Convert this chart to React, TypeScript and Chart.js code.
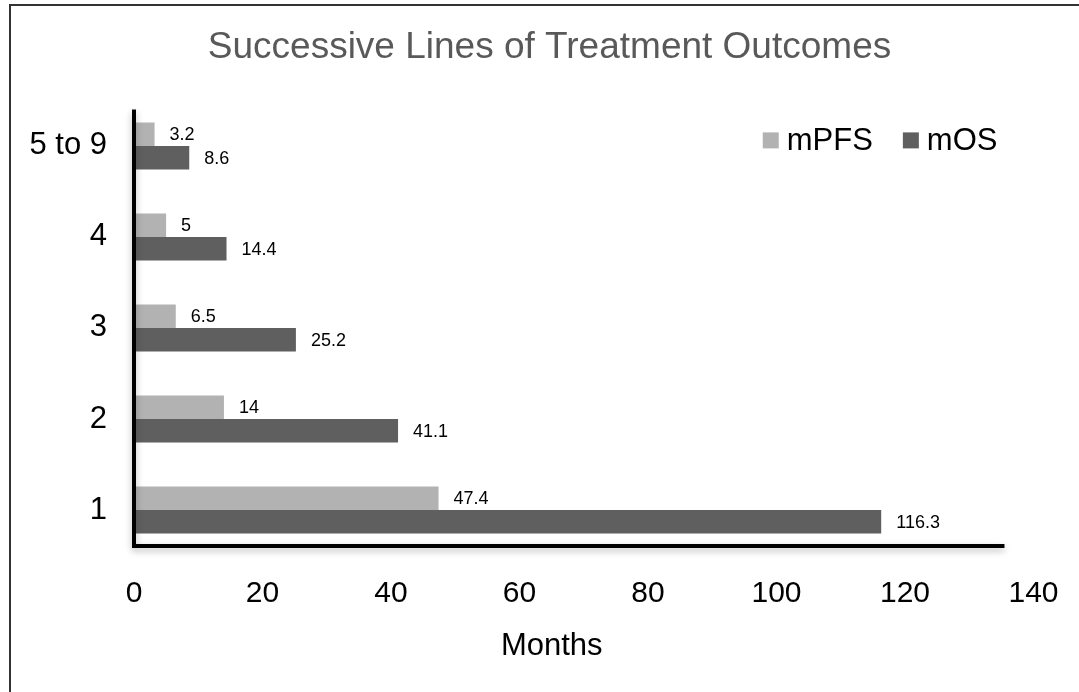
import React, { useEffect, useRef } from "react";
import { Chart, registerables } from "chart.js";

Chart.register(...registerables);

const FONT = "'Liberation Sans', Arial, Helvetica, sans-serif";

const categories = ["5 to 9", "4", "3", "2", "1"];
const seriesNames = ["mPFS", "mOS"];
const seriesColors = ["#b2b2b2", "#5f5f5f"];
const mPFS = [3.2, 5, 6.5, 14, 47.4];
const mOS = [8.6, 14.4, 25.2, 41.1, 116.3];
const xTicks = [0, 20, 40, 60, 80, 100, 120, 140];
const chartTitle = "Successive Lines of Treatment Outcomes";
const xTitle = "Months";

// Thick black axis lines with a soft shadow (Excel style)
const axisLinesPlugin = {
  id: "axisLines",
  afterDatasetsDraw(chart: any) {
    const { ctx, chartArea: a } = chart;
    ctx.save();
    ctx.strokeStyle = "#000";
    ctx.lineWidth = 4;
    ctx.lineCap = "butt";
    ctx.shadowColor = "rgba(0,0,0,0.28)";
    ctx.shadowBlur = 7;
    ctx.shadowOffsetX = 0;
    ctx.shadowOffsetY = 3;
    ctx.beginPath();
    ctx.moveTo(a.left, a.top + 9);
    ctx.lineTo(a.left, a.bottom - 7.5);
    ctx.moveTo(a.left - 2, a.bottom - 9.5);
    ctx.lineTo(a.right - 29, a.bottom - 9.5);
    ctx.stroke();
    ctx.restore();
  },
};

// Value labels at the end of each bar
const valueLabelsPlugin = {
  id: "valueLabels",
  afterDatasetsDraw(chart: any) {
    const { ctx } = chart;
    ctx.save();
    ctx.font = `18px ${FONT}`;
    ctx.fillStyle = "#000";
    ctx.textAlign = "left";
    ctx.textBaseline = "middle";
    chart.data.datasets.forEach((ds: any, i: number) => {
      const meta = chart.getDatasetMeta(i);
      meta.data.forEach((bar: any, j: number) => {
        ctx.fillText(String(ds.data[j]), bar.x + 15, bar.y + 1);
      });
    });
    ctx.restore();
  },
};

// Legend drawn inside the plot area, top-right, from the datasets
const innerLegendPlugin = {
  id: "innerLegend",
  afterDraw(chart: any) {
    const { ctx, chartArea: a } = chart;
    const ds = chart.data.datasets;
    ctx.save();
    ctx.font = `31px ${FONT}`;
    ctx.textBaseline = "middle";
    ctx.textAlign = "left";
    const box = 16;
    const gap = 8;
    const itemGap = 30;
    const widths = ds.map((d: any) => box + gap + ctx.measureText(d.label).width);
    const total = widths.reduce((s: number, w: number) => s + w, 0) + itemGap * (ds.length - 1);
    let x = a.right - 36 - total;
    const cy = a.top + 40;
    ds.forEach((d: any, i: number) => {
      ctx.fillStyle = d.backgroundColor;
      ctx.fillRect(x, cy - box / 2, box, box);
      ctx.fillStyle = "#000";
      ctx.fillText(d.label, x + box + gap, cy + 1);
      x += widths[i] + itemGap;
    });
    ctx.restore();
  },
};

// X-axis title, centred like the chart title
const axisTitlePlugin = {
  id: "axisTitle",
  afterLayout(chart: any) {
    const t = chart.titleBlock;
    if (t) {
      t.left += 32.5;
      t.right += 32.5;
    }
  },
  afterDraw(chart: any) {
    const { ctx, chartArea: a } = chart;
    ctx.save();
    ctx.font = `31px ${FONT}`;
    ctx.fillStyle = "#000";
    ctx.textAlign = "center";
    ctx.textBaseline = "middle";
    ctx.fillText(xTitle, (a.left + a.right) / 2 - 32, a.bottom + 90.5);
    ctx.restore();
  },
};

export default function App() {
  const canvasRef = useRef<HTMLCanvasElement | null>(null);

  useEffect(() => {
    if (!canvasRef.current) return;
    Chart.defaults.font.family = FONT;
    const chart = new Chart(canvasRef.current, {
      type: "bar",
      data: {
        labels: categories,
        datasets: [
          {
            label: seriesNames[0],
            data: mPFS,
            backgroundColor: seriesColors[0],
            borderWidth: 0,
            barPercentage: 1,
            categoryPercentage: 0.516,
          },
          {
            label: seriesNames[1],
            data: mOS,
            backgroundColor: seriesColors[1],
            borderWidth: 0,
            barPercentage: 1,
            categoryPercentage: 0.516,
          },
        ],
      },
      options: {
        indexAxis: "y",
        responsive: false,
        animation: false,
        layout: { padding: { left: 0, right: 45, top: 0, bottom: 0 } },
        plugins: {
          title: {
            display: true,
            text: chartTitle,
            color: "#595959",
            font: { size: 37, family: FONT, weight: "normal" },
            padding: { top: 26, bottom: 30 },
          },
          legend: { display: false },
          tooltip: { enabled: false },
        },
        scales: {
          x: {
            type: "linear",
            min: 0,
            max: 140,
            afterBuildTicks: (s: any) => {
              s.ticks = xTicks.map((v) => ({ value: v }));
            },
            afterFit: (s: any) => {
              s.height = 136.5;
            },
            ticks: {
              color: "#000",
              font: { size: 30, family: FONT },
              padding: 20.5,
            },
            grid: { display: false, drawTicks: false },
            border: { display: false },
          },
          y: {
            afterFit: (s: any) => {
              s.width = 134;
            },
            ticks: {
              color: "#000",
              font: { size: 31, family: FONT },
              padding: 27,
            },
            grid: { display: false, drawTicks: false },
            border: { display: false },
          },
        },
      },
      plugins: [axisLinesPlugin, valueLabelsPlugin, innerLegendPlugin, axisTitlePlugin],
    } as any);
    return () => chart.destroy();
  }, []);

  return (
    <div
      style={{
        position: "absolute",
        left: 0,
        top: 0,
        width: 1079,
        height: 692,
        overflow: "hidden",
        background: "#fff",
      }}
    >
      <canvas ref={canvasRef} width={1079} height={692} style={{ display: "block" }} />
      <div
        style={{
          position: "absolute",
          left: 9,
          top: 4,
          width: 1200,
          height: 800,
          borderLeft: "2px solid #333",
          borderTop: "2px solid #333",
          pointerEvents: "none",
        }}
      />
    </div>
  );
}
